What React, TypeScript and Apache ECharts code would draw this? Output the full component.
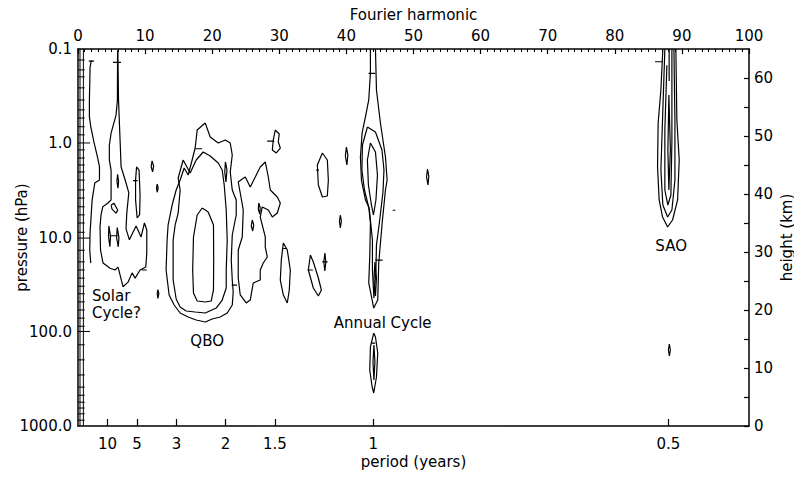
import React, { useEffect, useRef } from "react";
import * as echarts from "echarts";

// ---------- axes data ----------
const recordYears = 44; // harmonic = recordYears / period
const periods = [10, 5, 3, 2, 1.5, 1, 0.5];
const heightLabels = [0, 10, 20, 30, 40, 50, 60];
const heightTicks = [0, 5, 10, 15, 20, 25, 30, 35, 40, 45, 50, 55, 60];

// ---------- contour data: [Fourier harmonic, height km] ----------
// open lines
const solarLeft = [[2.0, 63.1], [1.8, 61.9], [1.7, 56.2], [1.7, 53.3], [1.9, 51.6], [2.4, 48.8], [2.9, 46.4], [3.2, 44.7], [3.2, 42.4], [2.5, 41.9], [2.1, 38.9], [1.8, 33.3], [1.75, 30.3], [1.9, 28.1]];
const annualOuter = [[43.58, 65], [43.58, 60.86], [43.33, 56.21], [42.84, 53.28], [42.34, 50.52], [42.09, 46.38], [42.24, 42.41], [42.84, 38.97], [43.33, 37.76], [43.58, 35], [43.48, 29.14], [43.33, 24.66], [43.84, 21.72], [44.07, 20.34], [44.67, 21.72], [44.82, 28.1], [45.33, 35], [45.82, 40.69], [46.07, 42.41], [45.82, 46.38], [45.07, 52.24], [44.48, 57.93], [44.33, 65]];
const saoOuter = [[87.16, 65], [86.87, 57.93], [86.46, 52.24], [86.37, 44.66], [86.61, 38.97], [87.12, 36.03], [87.87, 34.31], [88.61, 35.52], [89.36, 38.97], [89.6, 45.86], [89.25, 52.76], [89.1, 65]];
const saoSecond = [[87.46, 65], [87.16, 54.48], [86.87, 44.14], [87.16, 38.1], [87.87, 36.03], [88.51, 37.24], [88.96, 42.41], [88.96, 52.76], [88.81, 65]];
const saoThird = [[87.76, 62.2], [87.46, 51.03], [87.46, 40.69], [87.91, 38.1], [88.36, 39.83], [88.51, 49.14], [88.51, 65]];
const saoTop = [[88.1, 65], [88.1, 59.5]];

// closed loops
const solarCycle = [[5.9, 64.8], [5.87, 56.2], [5.67, 53.6], [4.93, 50.5], [4.67, 48.4], [4.67, 45.9], [4.93, 44.1], [4.93, 39.0], [4.43, 38.4], [3.69, 37.8], [3.43, 36.4], [3.28, 34.3], [3.36, 30.3], [3.73, 28.1], [4.78, 27.2], [5.52, 26.9], [5.97, 27.4], [6.72, 24.0], [7.46, 24.8], [8.06, 26.4], [8.51, 25.5], [9.25, 26.9], [10.1, 27.4], [10.25, 29.8], [10.25, 33.8], [9.9, 35.0], [9.4, 32.6], [8.66, 34.5], [8.16, 33.3], [7.66, 32.1], [7.16, 34.0], [7.27, 36.7], [7.57, 40.2], [7.16, 41.9], [6.42, 44.7], [6.27, 49.3], [6.04, 56.2], [5.94, 64.8]];
const solarSmall1 = [[4.93, 38.1], [5.37, 38.4], [5.93, 37.2], [5.67, 36.7], [5.07, 37.4]];
const solarSmall2 = [[5.9, 43.4], [6.05, 42.2], [5.95, 41.0], [5.8, 42.2]];
const solarSmall3 = [[4.6, 34.5], [4.85, 32.7], [4.75, 30.9], [4.55, 32.7]];
const solarSmall4 = [[5.85, 34.2], [6.1, 32.5], [6.0, 30.9], [5.75, 32.5]];
const loopNine = [[8.73, 44.7], [9.1, 44.1], [9.25, 39.8], [9.18, 36.4], [8.81, 35.9], [8.58, 39.0], [8.58, 42.4]];
const loopEleven = [[11.04, 45.7], [11.27, 44.8], [11.12, 43.8], [10.9, 44.7]];
const markTwelveA = [[11.8, 41.7], [11.95, 41.0], [11.8, 40.3], [11.7, 41.0]];
const markTwelveB = [[11.9, 23.5], [12.05, 22.8], [11.9, 22.0], [11.8, 22.8]];
const qboOuter = [[18.96, 52.24], [19.7, 49.83], [20.9, 48.79], [21.94, 49.31], [22.69, 48.79], [22.99, 46.72], [22.69, 43.79], [22.99, 40.69], [23.58, 38.97], [23.58, 36.38], [22.99, 32.93], [22.84, 28.62], [22.99, 25.17], [23.13, 23.1], [22.99, 20.86], [22.24, 19.48], [21.19, 18.79], [20.0, 18.45], [18.96, 17.93], [17.61, 18.28], [16.42, 18.79], [15.22, 19.48], [14.33, 20.86], [13.58, 22.59], [13.13, 26.9], [13.28, 32.07], [13.43, 34.66], [14.03, 38.1], [14.63, 40.69], [15.22, 42.41], [15.82, 44.48], [16.42, 43.28], [17.01, 45.86], [17.46, 47.93], [17.76, 51.03]];
const qboMiddle = [[15.67, 45.86], [16.72, 43.62], [17.61, 45.86], [18.66, 47.24], [19.7, 46.55], [20.9, 45.34], [21.49, 44.14], [21.79, 41.55], [22.09, 37.24], [22.24, 32.07], [22.09, 26.9], [22.09, 23.79], [21.49, 21.72], [20.6, 20.34], [18.96, 19.48], [17.46, 19.66], [16.12, 19.83], [15.22, 20.52], [14.63, 21.9], [14.18, 25.17], [14.18, 32.07], [14.48, 34.66], [14.93, 36.72], [15.22, 40.69], [14.93, 42.76]];
const qboInner = [[18.51, 37.59], [17.76, 36.38], [17.21, 32.59], [17.09, 26.9], [17.21, 22.93], [17.76, 21.55], [18.96, 21.38], [19.85, 21.55], [20.19, 23.45], [20.22, 28.62], [20.19, 34.66], [19.4, 36.9]];
const qboSmall = [[21.97, 45.52], [22.2, 44.14], [22.05, 42.07], [21.87, 43.79]];
const qboSide = [[23.88, 25.52], [23.88, 30.34], [24.48, 32.59], [24.63, 37.24], [24.18, 40.17], [23.88, 42.07], [24.48, 42.59], [24.93, 42.93], [25.67, 41.21], [26.42, 42.93], [27.16, 44.66], [27.91, 45.52], [28.36, 42.93], [28.66, 40.69], [29.7, 39.48], [30.15, 38.45], [29.7, 36.72], [28.96, 36.03], [28.36, 37.24], [27.46, 37.76], [27.16, 36.03], [27.91, 32.59], [27.91, 30.86], [28.21, 29.14], [27.61, 28.1], [27.16, 26.9], [27.16, 25.17], [26.12, 24.66], [25.67, 21.72], [25.07, 21.21], [24.18, 22.59]];
const sideSmall1 = [[26.94, 38.45], [27.16, 37.59], [27.09, 36.55], [26.87, 37.41]];
const sideSmall2 = [[25.97, 35.52], [26.19, 34.66], [26.04, 33.62], [25.82, 34.48]];
const loopThirty = [[29.4, 51.03], [29.99, 50.34], [29.85, 48.97], [30.15, 47.93], [29.55, 47.07], [28.96, 47.59], [29.1, 49.31]];
const loopThirtySix = [[36.42, 47.07], [37.16, 45.86], [37.31, 42.41], [37.16, 39.66], [36.42, 39.48], [35.82, 41.55], [35.67, 44.99]];
const loopThirtyOne = [[30.6, 31.55], [31.19, 30.34], [31.64, 26.9], [31.49, 23.45], [31.19, 21.21], [30.6, 22.59], [30.15, 25.17], [30.3, 28.62]];
const loopThirtyFive = [[34.63, 29.48], [35.07, 28.28], [35.82, 25.52], [36.27, 23.45], [35.82, 22.41], [35.07, 23.79], [34.33, 26.9]];
const markThirtySeven = [[36.79, 29.83], [36.94, 28.28], [36.79, 26.72], [36.64, 28.28]];
const markForty = [[40.0, 48.1], [40.22, 46.72], [40.07, 45.0], [39.85, 46.55]];
const markThirtyNine = [[39.1, 36.38], [39.25, 35.34], [39.1, 34.14], [38.96, 35.34]];
const markFiftyTwo = [[52.09, 44.31], [52.28, 43.1], [52.16, 41.55], [51.94, 42.93]];
const annualSecond = [[43.13, 51.55], [42.39, 48.45], [42.31, 44.14], [42.69, 40.69], [43.43, 37.24], [43.88, 32.07], [43.88, 26.9], [44.1, 22.07], [44.4, 26.9], [44.48, 31.21], [44.93, 35.17], [45.45, 40.34], [45.6, 44.14], [45.3, 47.59], [44.33, 50.69]];
const annualThird = [[43.58, 48.79], [43.13, 45.86], [43.28, 41.55], [43.73, 38.1], [44.03, 36.38], [44.4, 38.97], [44.63, 43.28], [44.33, 47.24]];
const annualFourth = [[44.25, 28.28], [44.48, 25.52], [44.33, 22.41], [44.1, 25.17]];
const annualLow = [[44.07, 16.03], [43.58, 13.62], [43.48, 9.66], [43.84, 6.72], [44.07, 5.69], [44.48, 8.45], [44.67, 12.59], [44.33, 15.34]];
const annualLowInner = [[44.1, 13.97], [43.96, 11.03], [44.1, 7.93], [44.25, 11.03]];
const saoInner = [[88.06, 57.07], [87.91, 47.59], [88.06, 40.69], [88.28, 47.59]];
const saoLow = [[88.13, 14.14], [88.28, 13.1], [88.13, 12.07], [87.99, 13.1]];

const openLines = [solarLeft, annualOuter, saoOuter, saoSecond, saoThird, saoTop];
const closedLoops = [solarCycle, solarSmall1, solarSmall2, solarSmall3, solarSmall4, loopNine, loopEleven, markTwelveA, markTwelveB, qboOuter, qboMiddle, qboInner, qboSmall, qboSide, sideSmall1, sideSmall2, loopThirty, loopThirtySix, loopThirtyOne, loopThirtyFive, markThirtySeven, markForty, markThirtyNine, markFiftyTwo, annualSecond, annualThird, annualFourth, annualLow, annualLowInner, saoInner, saoLow];

// dense contours hugging harmonic 0: rails and rungs
const ladderRails = [0.3, 0.8];
const ladderRungs = [[63.1, 1.0], [61.4, 1.0], [60.2, 1.0], [58.3, 1.0], [56.2, 1.0], [54.5, 1.0], [53.1, 1.0], [51.6, 1.0], [50.2, 1.0], [48.8, 1.8], [47.6, 1.0], [46.2, 1.0], [45.0, 1.0], [43.8, 1.0], [42.4, 1.0], [40.7, 1.0], [39.3, 1.0], [37.8, 1.0], [36.4, 1.0], [35.0, 1.0], [33.4, 1.0], [32.4, 1.8], [30.3, 1.0], [28.3, 1.0], [26.9, 1.0], [25.5, 1.0], [24.1, 1.0], [22.8, 1.0], [21.4, 1.0], [20.0, 1.0], [18.6, 1.0], [17.2, 1.0], [16.3, 1.8], [14.0, 1.0], [11.4, 1.0], [8.8, 1.0], [6.7, 1.0], [5.3, 1.0], [4.1, 1.0], [3.1, 1.0], [2.1, 1.0], [1.0, 1.0]];

// contour-label dashes: [harmonic from, harmonic to, height km]
const labelDashes = [[1.6, 2.4, 62.9], [5.2, 6.4, 62.7], [9.5, 10.25, 26.9], [8.2, 8.9, 42.3], [4.7, 5.9, 32.8], [17.5, 18.5, 47.8], [22.9, 23.7, 24.3], [28.2, 29.25, 49.1], [35.5, 35.9, 44.1], [30.55, 31.15, 30.6], [34.2, 35.0, 26.9], [36.4, 37.2, 28.3], [43.3, 44.3, 60.8], [44.3, 45.4, 28.6], [43.7, 44.3, 14.3], [86.0, 87.1, 62.8], [46.9, 47.3, 37.2]];

// annotations: [harmonic, height km, text, align]
const annotations = [
  [2.1, 21.0, "Solar\nCycle?", "left"],
  [19.25, 14.66, "QBO", "center"],
  [45.4, 17.76, "Annual Cycle", "center"],
  [88.4, 31.0, "SAO", "center"],
];

const FONT = "DejaVu Sans";
const INK = "#000";

function lineSeries(data: number[][], width = 1.2) {
  return {
    type: "line",
    xAxisIndex: 0,
    yAxisIndex: 1,
    data,
    symbol: "none",
    showSymbol: false,
    silent: true,
    lineStyle: { color: INK, width },
    z: 3,
  };
}

function buildOption() {
  const series: any[] = [];
  openLines.forEach((l) => series.push(lineSeries(l)));
  closedLoops.forEach((l) => series.push(lineSeries([...l, l[0]])));
  ladderRails.forEach((h) => series.push(lineSeries([[h, 0], [h, 65]], 1)));
  ladderRungs.forEach(([km, hEnd]) => series.push(lineSeries([[0, km], [hEnd, km]], 1)));
  labelDashes.forEach(([a, b, km]) => series.push(lineSeries([[a, km], [b, km]])));
  series.push({
    type: "scatter",
    xAxisIndex: 0,
    yAxisIndex: 1,
    symbolSize: 0,
    silent: true,
    z: 5,
    itemStyle: { opacity: 1 },
    data: annotations.map(([h, km, text, align]) => ({
      value: [h, km],
      name: text,
      label: {
        show: true,
        position: "inside",
        formatter: "{b}",
        align,
        verticalAlign: "middle",
        fontSize: 15,
        lineHeight: 17,
        color: INK,
        opacity: 1,
        textBorderWidth: 0,
        fontFamily: FONT,
      },
    })),
  });

  const axisLine = { show: true, onZero: false, lineStyle: { color: INK, width: 1.5 } };
  const labelStyle = { color: INK, fontSize: 15, fontFamily: FONT };
  const nameStyle = { color: INK, fontSize: 15, fontFamily: FONT };

  return {
    animation: false,
    backgroundColor: "#fff",
    textStyle: { fontFamily: FONT },
    grid: { left: 78, right: 45, top: 49, bottom: 52, containLabel: false, outerBoundsMode: "none" },
    xAxis: [
      {
        type: "value",
        min: 0,
        max: 100,
        position: "bottom",
        name: "period (years)",
        nameLocation: "middle",
        nameGap: 28,
        nameMoveOverlap: false,
        nameTextStyle: nameStyle,
        axisLine,
        axisTick: {
          show: true,
          inside: true,
          length: 7,
          customValues: periods.map((p) => recordYears / p),
          lineStyle: { color: INK, width: 1.2 },
        },
        axisLabel: {
          ...labelStyle,
          margin: 10,
          customValues: periods.map((p) => recordYears / p),
          formatter: (v: number) => String(Math.round((recordYears / v) * 10) / 10),
        },
        splitLine: { show: false },
      },
      {
        type: "value",
        min: 0,
        max: 100,
        interval: 10,
        position: "top",
        name: "Fourier harmonic",
        nameLocation: "middle",
        nameGap: 27,
        nameMoveOverlap: false,
        nameTextStyle: nameStyle,
        axisLine,
        axisTick: { show: true, inside: true, length: 5, lineStyle: { color: INK, width: 1.2 } },
        minorTick: { show: true, splitNumber: 10, length: 3, lineStyle: { color: INK, width: 1 } },
        axisLabel: { ...labelStyle, margin: 6 },
        splitLine: { show: false },
        minorSplitLine: { show: false },
      },
    ],
    yAxis: [
      {
        type: "log",
        logBase: 10,
        min: 0.1,
        max: 1000,
        inverse: true,
        position: "left",
        name: "pressure (hPa)",
        nameLocation: "middle",
        nameRotate: 90,
        nameGap: 49,
        nameMoveOverlap: false,
        nameTextStyle: nameStyle,
        axisLine,
        axisTick: { show: false },
        axisLabel: { ...labelStyle, margin: 6, formatter: (v: number) => Number(v).toFixed(1) },
        splitLine: { show: false },
      },
      {
        type: "value",
        min: 0,
        max: 65,
        position: "right",
        name: "height (km)",
        nameLocation: "middle",
        nameRotate: 90,
        nameGap: 30,
        nameMoveOverlap: false,
        nameTextStyle: nameStyle,
        axisLine,
        axisTick: { show: true, inside: true, length: 5, customValues: heightTicks, lineStyle: { color: INK, width: 1.2 } },
        axisLabel: { ...labelStyle, margin: 5, customValues: heightLabels },
        splitLine: { show: false },
      },
    ],
    series,
  };
}

export default function App() {
  const ref = useRef<HTMLDivElement>(null);
  useEffect(() => {
    document.body.style.margin = "0";
    if (!ref.current) return;
    const chart = echarts.init(ref.current, undefined, { renderer: "svg" });
    chart.setOption(buildOption() as any);
    return () => chart.dispose();
  }, []);
  return <div ref={ref} style={{ width: 794, height: 478, background: "#fff" }} />;
}
